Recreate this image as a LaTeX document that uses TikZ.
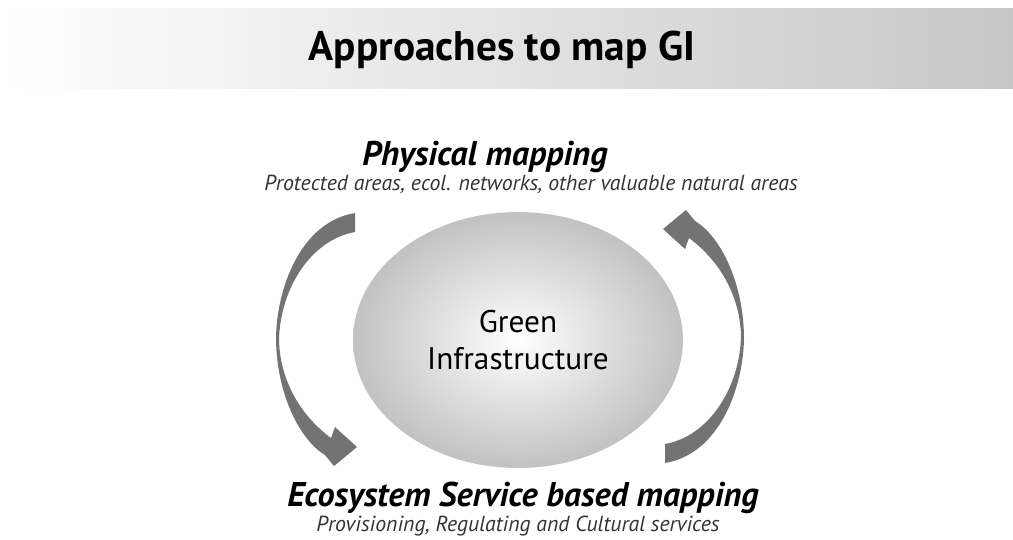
\documentclass[tikz,border=0pt]{standalone}
\usepackage{fontspec}
\setmainfont{PT Sans}
\usetikzlibrary{shapes.geometric, positioning}

\begin{document}
\begin{tikzpicture}[x=0.02cm, y=-0.02cm]

\tikzstyle{heading}=[font=\fontsize{19.5}{23}\selectfont\bfseries\itshape, inner sep=0pt]
\tikzstyle{subheading}=[font=\fontsize{12.4}{15}\selectfont\itshape, text=black!80, inner sep=0pt]
\tikzstyle{arrowfill}=[fill=black!55, draw=none]
\tikzset{cyclearrow/.pic={
\fill[arrowfill] (355,213) .. controls (300,222) and (276,290) .. (276,340)
  .. controls (277,395) and (300,440) .. (325,455) -- (334,466) -- (357,447)
  -- (335,427) -- (331,438) .. controls (300,415) and (280,380) .. (279,340)
  .. controls (280,290) and (310,240) .. (355,232) -- cycle;
}}

\useasboundingbox (0,0) rectangle (1013,539);

% title banner
\shade[left color=white, right color=black!22] (0,8) rectangle (1013,88);
\node[font=\fontsize{23.5}{27}\selectfont\bfseries] (title) at (502,50) {Approaches to map GI};

% centre
\node[ellipse, minimum width=6.6cm, minimum height=5.12cm, inner color=white, outer color=black!24,
  align=center, font=\fontsize{17.8}{21}\selectfont] (gi) at (518,340) {Green\\Infrastructure};

\node[heading] (phys) at (485,157) {Physical mapping};
\node[subheading] (physsub) at (531,184) {Protected areas, ecol. networks, other valuable natural areas};

\node[heading] (ecos) at (523,498) {Ecosystem Service based mapping};
\node[subheading] (ecossub) at (518,526) {Provisioning, Regulating and Cultural services};

% arrows round the circle
\pic at (0,0) {cyclearrow};
\pic[rotate=180] at (1020,676) {cyclearrow};

\end{tikzpicture}
\end{document}
